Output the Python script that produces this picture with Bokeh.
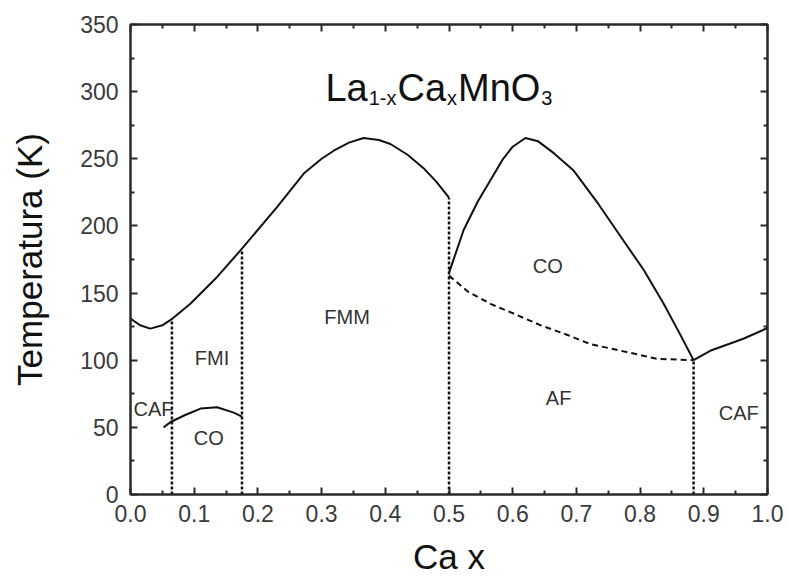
from bokeh.plotting import figure
from bokeh.models import FixedTicker, LinearAxis, Label, CustomJSTickFormatter, Range1d, ColumnDataSource
from bokeh.core.properties import value
from bokeh.embed import file_html
from bokeh.resources import INLINE

# ---------------- data ----------------
# Curie / Neel boundary, left dome (solid)
left_x = [0.0, 0.015, 0.031, 0.05, 0.066, 0.094, 0.136, 0.173, 0.23, 0.272, 0.3, 0.319, 0.343, 0.366, 0.39, 0.408, 0.435, 0.46, 0.48, 0.5]
left_y = [131, 126, 123.5, 126, 131, 142, 162, 182, 214, 239, 250, 256, 262, 265.5, 264, 261, 253, 243, 233, 221]

# charge-order dome, right (solid)
co_x = [0.5, 0.523, 0.545, 0.565, 0.585, 0.6, 0.62, 0.64, 0.665, 0.696, 0.735, 0.774, 0.806, 0.837, 0.862, 0.884]
co_y = [165, 197, 218, 234, 250, 259, 265.5, 263, 254, 241, 216, 189, 167, 142, 120, 100]

# AF boundary (dashed)
af_x = [0.5, 0.53, 0.565, 0.605, 0.644, 0.685, 0.722, 0.78, 0.827, 0.884]
af_y = [163, 151, 142, 134, 126, 119, 112, 106, 101, 100]

# CAF boundary, right (solid)
caf_x = [0.884, 0.91, 0.962, 1.0]
caf_y = [100, 107, 116, 124]

# small CO boundary at low x (solid)
lowco_x = [0.052, 0.063, 0.085, 0.11, 0.136, 0.162, 0.175]
lowco_y = [50, 54, 59, 64, 65, 61, 58]

# vertical phase borders (dotted): x and top temperature
vb_x = [0.065, 0.175, 0.5, 0.884]
vb_top = [131, 182, 221, 100]

# phase names
phase_names = ["CAF", "FMI", "CO", "FMM", "CO", "AF", "CAF"]
phase_x = [0.036, 0.128, 0.123, 0.34, 0.655, 0.672, 0.955]
phase_y = [64, 102, 42, 132, 170, 72, 61]

x_ticks = [0.0, 0.1, 0.2, 0.3, 0.4, 0.5, 0.6, 0.7, 0.8, 0.9, 1.0]
x_minor = [0.05, 0.15, 0.25, 0.35, 0.45, 0.55, 0.65, 0.75, 0.85, 0.95]
y_ticks = [0, 50, 100, 150, 200, 250, 300, 350]
y_minor = [25, 75, 125, 175, 225, 275, 325]

FONT = "Liberation Sans"
AX_COLOR = "#2a2a2a"
TICK_TXT = "#3a3a3a"

p = figure(width=789, height=580, x_range=Range1d(0, 1.0), y_range=Range1d(0, 350),
           output_backend="svg", toolbar_location=None,
           min_border_left=130, min_border_right=22, min_border_top=24, min_border_bottom=86)
p.xgrid.visible = False
p.ygrid.visible = False
p.outline_line_color = AX_COLOR
p.outline_line_width = 2
p.background_fill_color = "white"
p.border_fill_color = "white"

def style_axis(ax, ticks, minor, labels=True):
    ax.ticker = FixedTicker(ticks=ticks, minor_ticks=minor)
    ax.axis_line_color = AX_COLOR
    ax.axis_line_width = 2
    ax.major_tick_in = 7
    ax.major_tick_out = 0
    ax.minor_tick_in = 4
    ax.minor_tick_out = 0
    ax.major_tick_line_color = AX_COLOR
    ax.major_tick_line_width = 2
    ax.minor_tick_line_color = AX_COLOR
    ax.minor_tick_line_width = 2
    ax.major_label_text_font = FONT
    ax.major_label_text_font_size = "23px"
    ax.major_label_text_color = TICK_TXT
    if not labels:
        ax.formatter = CustomJSTickFormatter(code="return ''")
        ax.major_label_text_font_size = "0px"
        ax.major_label_standoff = 0

xa = p.xaxis[0]
ya = p.yaxis[0]
style_axis(xa, x_ticks, x_minor)
style_axis(ya, y_ticks, y_minor)
xa.formatter = CustomJSTickFormatter(code="return tick.toFixed(1)")
xa.major_label_standoff = 10
ya.major_label_standoff = 12
xa.axis_label = "Ca x"
ya.axis_label = "Temperatura (K)"
for ax in (xa, ya):
    ax.axis_label_text_font = FONT
    ax.axis_label_text_font_size = "35px"
    ax.axis_label_text_font_style = "normal"
    ax.axis_label_text_color = "#111111"
xa.axis_label_standoff = 12
ya.axis_label_standoff = 28

top = LinearAxis()
style_axis(top, x_ticks, x_minor, labels=False)
p.add_layout(top, "above")
right = LinearAxis()
style_axis(right, y_ticks, y_minor, labels=False)
p.add_layout(right, "right")

LC = "#111111"
p.line(left_x, left_y, line_color=LC, line_width=2)
p.line(co_x, co_y, line_color=LC, line_width=2)
p.line(caf_x, caf_y, line_color=LC, line_width=2)
p.line(lowco_x, lowco_y, line_color=LC, line_width=2)
p.line(af_x, af_y, line_color=LC, line_width=2, line_dash="6 4")
p.segment(x0=vb_x, y0=[0] * len(vb_x), x1=vb_x, y1=vb_top,
          line_color=LC, line_width=2.5, line_dash="3 2")

src = ColumnDataSource(dict(x=phase_x, y=phase_y, t=phase_names))
p.text(x="x", y="y", text="t", source=src, text_font=value(FONT), text_font_size="20px",
       text_color="#333333", text_align="center", text_baseline="middle")

# formula title La(1-x)Ca(x)MnO3 built from pieces
pieces = [("La", False), ("1-x", True), ("Ca", False), ("x", True), ("MnO", False), ("3", True)]
widths = {"La": 1.112, "1-x": 1.389, "Ca": 1.278, "x": 0.5, "MnO": 2.167, "3": 0.556}
main_px, sub_px = 38, 20
px_per_x = 637.0
cur = 0.306
for txt, sub in pieces:
    size = sub_px if sub else main_px
    p.add_layout(Label(x=cur, y=(295 if sub else 303), text=txt, text_font=FONT,
                       text_font_size=f"{size}px", text_color="#111111",
                       text_baseline="alphabetic", text_align="left"))
    cur += (widths[txt] * size + 1) / px_per_x

open("out.html", "w").write(file_html(p, INLINE))
